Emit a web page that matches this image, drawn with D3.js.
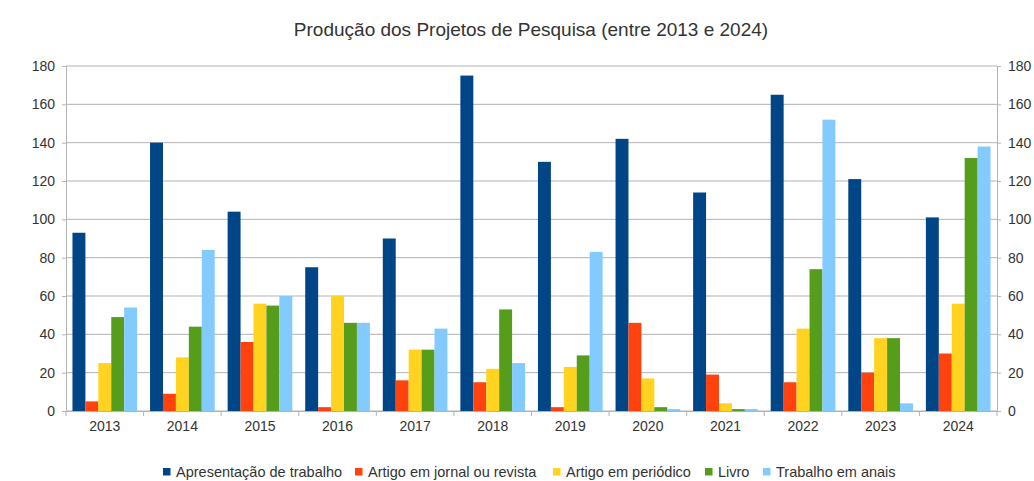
<!DOCTYPE html>
<html>
<head>
<meta charset="utf-8">
<script src="https://cdn.jsdelivr.net/npm/d3@7"></script>
<style>
  body { margin: 0; background: #fff; }
  text { font-family: "Liberation Sans", Arial, sans-serif; }
</style>
</head>
<body>
<div id="chart"></div>
<script>
const years = ["2013", "2014", "2015", "2016", "2017", "2018", "2019", "2020", "2021", "2022", "2023", "2024"];
const seriesNames = ["Apresentação de trabalho", "Artigo em jornal ou revista", "Artigo em periódico", "Livro", "Trabalho em anais"];
const apresentacao = [93, 140, 104, 75, 90, 175, 130, 142, 114, 165, 121, 101];
const artigoJornal = [5, 9, 36, 2, 16, 15, 2, 46, 19, 15, 20, 30];
const artigoPeriodico = [25, 28, 56, 60, 32, 22, 23, 17, 4, 43, 38, 56];
const livro = [49, 44, 55, 46, 32, 53, 29, 2, 1, 74, 38, 132];
const trabalhoAnais = [54, 84, 60, 46, 43, 25, 83, 1, 1, 152, 4, 138];
const yTicks = [0, 20, 40, 60, 80, 100, 120, 140, 160, 180];
const colors = ["#004586", "#ff420e", "#ffd320", "#579d1c", "#83caff"];

const allSeries = [apresentacao, artigoJornal, artigoPeriodico, livro, trabalhoAnais];

const width = 1034, height = 481;
const margin = { top: 66, right: 37, bottom: 70, left: 66 };

const svg = d3.select("#chart").append("svg")
  .attr("width", width)
  .attr("height", height);

const x0 = d3.scaleBand()
  .domain(years)
  .range([margin.left, width - margin.right])
  .padding(0);

const x1 = d3.scaleBand()
  .domain(d3.range(seriesNames.length))
  .range([0, x0.bandwidth()])
  .paddingInner(0)
  .paddingOuter(0.5);

const y = d3.scaleLinear()
  .domain([0, 180])
  .range([height - margin.bottom, margin.top]);

// title
svg.append("text")
  .attr("x", 531)
  .attr("y", 36)
  .attr("text-anchor", "middle")
  .style("font-size", "19px")
  .style("fill", "#333")
  .text("Produção dos Projetos de Pesquisa (entre 2013 e 2024)");

// grid
svg.append("g")
  .selectAll("line")
  .data(yTicks)
  .enter()
  .append("line")
  .attr("x1", margin.left)
  .attr("x2", width - margin.right)
  .attr("y1", d => y(d))
  .attr("y2", d => y(d))
  .style("stroke", "#b3b3b3")
  .style("stroke-width", 1);

// bars
const groups = svg.append("g")
  .selectAll("g")
  .data(years)
  .enter()
  .append("g")
  .attr("transform", d => `translate(${x0(d)},0)`);

groups.selectAll("rect")
  .data((d, i) => allSeries.map((s, k) => ({ k, v: s[i] })))
  .enter()
  .append("rect")
  .attr("x", d => x1(d.k))
  .attr("width", x1.bandwidth())
  .attr("y", d => y(d.v))
  .attr("height", d => y(0) - y(d.v))
  .style("fill", d => colors[d.k]);

// axes
const axisColor = "#b3b3b3";
const leftAxis = svg.append("g")
  .attr("transform", `translate(${margin.left},0)`)
  .call(d3.axisLeft(y).tickValues(yTicks).tickSize(4).tickPadding(7));
const rightAxis = svg.append("g")
  .attr("transform", `translate(${width - margin.right},0)`)
  .call(d3.axisRight(y).tickValues(yTicks).tickSize(4).tickPadding(7));
const bottomAxis = svg.append("g")
  .attr("transform", `translate(0,${y(0)})`)
  .call(d3.axisBottom(x0).tickSize(0).tickPadding(10));

// boundary ticks between years
svg.append("g")
  .selectAll("line")
  .data(d3.range(years.length + 1))
  .enter()
  .append("line")
  .attr("x1", i => margin.left + i * x0.step())
  .attr("x2", i => margin.left + i * x0.step())
  .attr("y1", y(0))
  .attr("y2", y(0) + 5)
  .style("stroke", axisColor);

[leftAxis, rightAxis, bottomAxis].forEach(a => {
  a.select(".domain").style("stroke", axisColor);
  a.selectAll(".tick line").style("stroke", axisColor);
  a.selectAll("text")
    .style("font-size", "14px")
    .style("fill", "#333")
    .style("font-family", "Liberation Sans, Arial, sans-serif");
});

// legend
const legendX = [163, 355, 553, 705, 763];
const legend = svg.append("g")
  .selectAll("g")
  .data(seriesNames)
  .enter()
  .append("g")
  .attr("transform", (d, i) => `translate(${legendX[i]},468)`);

legend.append("rect")
  .attr("x", 0)
  .attr("y", 0)
  .attr("width", 7.5)
  .attr("height", 7.5)
  .style("fill", (d, i) => colors[i]);

legend.append("text")
  .attr("x", 13)
  .attr("y", 8.5)
  .style("font-size", "14.5px")
  .style("fill", "#333")
  .text(d => d);
</script>
</body>
</html>
